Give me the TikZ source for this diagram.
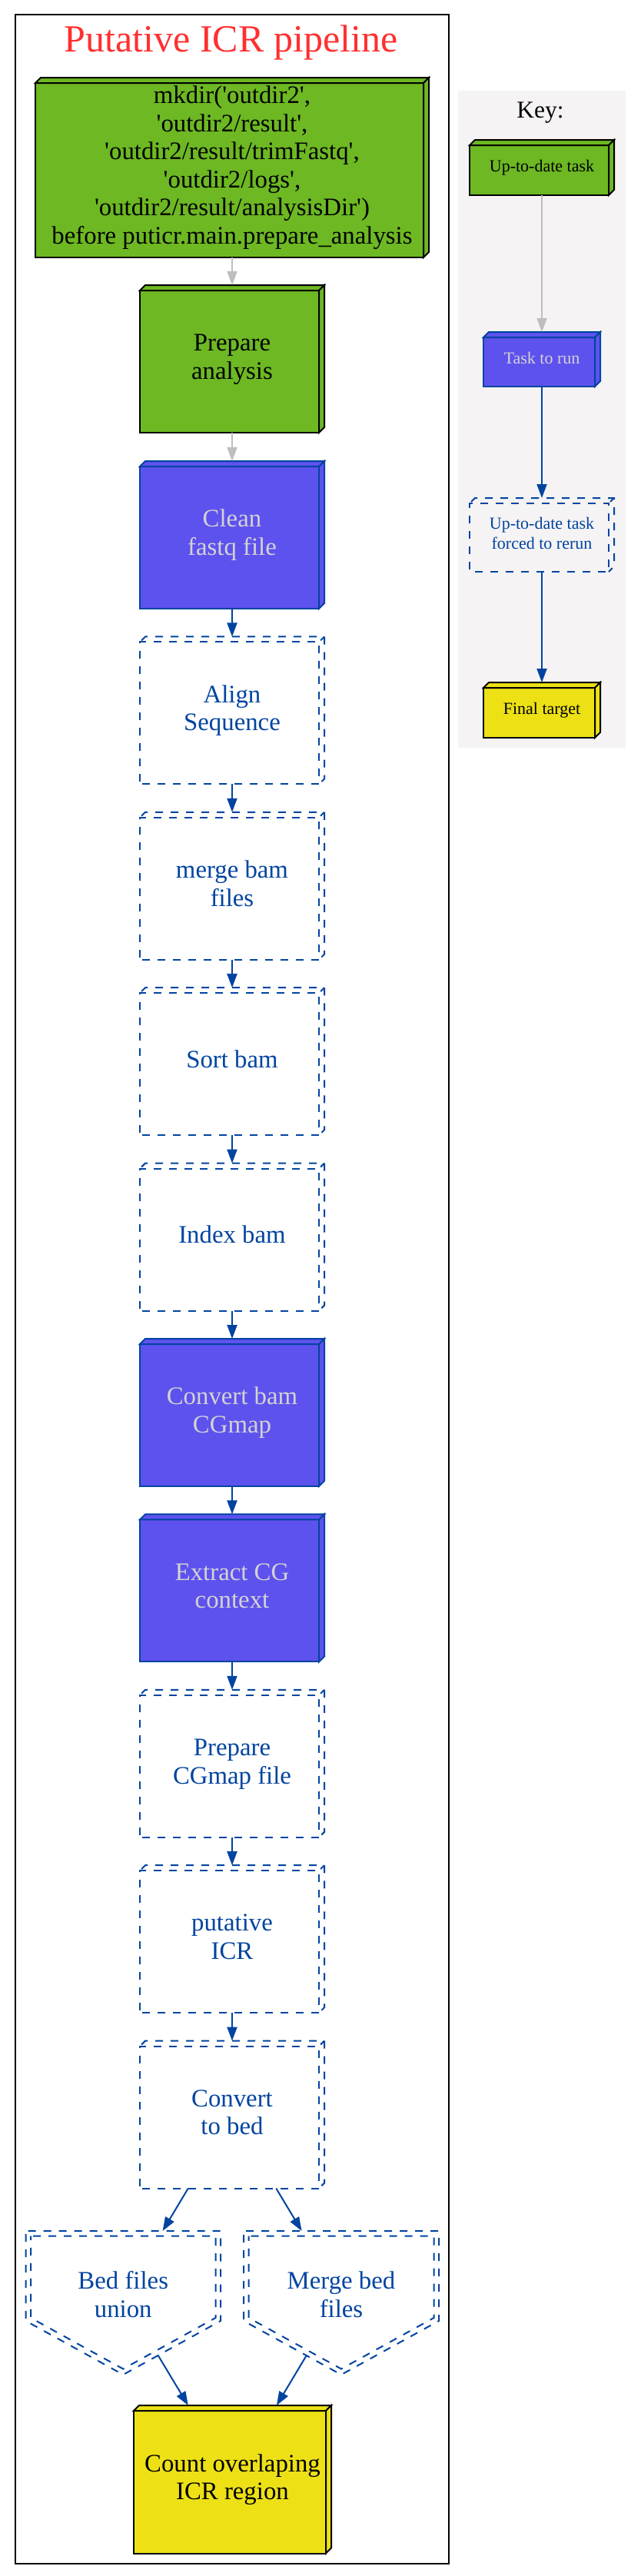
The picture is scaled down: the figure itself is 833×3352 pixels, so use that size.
\documentclass[tikz,border=0pt]{standalone}
\usepackage{fontspec}
\newfontfamily\gvf{Liberation Serif}
\usetikzlibrary{arrows.meta,calc,backgrounds}
\definecolor{gvgreen}{HTML}{6DB823}
\definecolor{gvblue}{HTML}{5E52EE}
\definecolor{gvedge}{HTML}{0044A0}
\definecolor{gvgray}{HTML}{BEBEBE}
\definecolor{gvyellow}{HTML}{EDE116}
\definecolor{gvlight}{HTML}{D3D3D3}
\definecolor{gvkey}{HTML}{F5F3F4}
\definecolor{gvred}{HTML}{FF3030}
\newcommand\ms{\rule[-10.25pt]{0pt}{36.5pt}}
\newcommand\ks{\rule[-7.5pt]{0pt}{26pt}}
\tikzset{
  gvnode/.style 2 args={rectangle, draw=none, outer sep=0pt, inner sep=0pt,
    minimum width=#1, minimum height=#2, align=center},
  mainfont/.style={font=\gvf\fontsize{32.8}{36.5}\selectfont},
  keyfont/.style={font=\gvf\fontsize{22}{26}\selectfont},
  gvdash/.style={draw=gvedge, line width=2pt, dash pattern=on 10pt off 10pt, dash phase=-3pt},
  gvarrow/.style={draw=gvedge, line width=2pt, -{Triangle[length=18pt,width=13pt]}},
  gvgrayarrow/.style={draw=gvgray, line width=2pt, -{Triangle[length=18pt,width=13pt]}},
}
\newcommand\gvsolidbox[3]{%
  \path[fill=#2, draw=#3, line width=2pt] (#1.south west) rectangle ($(#1.north east)+(-7,7)$);
  \path[fill=#2, draw=#3, line width=2pt] ($(#1.north west)+(0,7)$) -- ($(#1.north west)+(7,0)$) -- (#1.north east) -- ($(#1.north east)+(-7,7)$) -- cycle;
  \path[fill=#2, draw=#3, line width=2pt] ($(#1.north east)+(-7,7)$) -- (#1.north east) -- ($(#1.south east)+(0,-7)$) -- ($(#1.south east)+(-7,0)$) -- cycle;
}
\newcommand\gvdashbox[1]{%
  \path[gvdash] (#1.south west) rectangle ($(#1.north east)+(-7,7)$);
  \path[gvdash] ($(#1.north west)+(0,7)$) -- ($(#1.north west)+(7,0)$) -- (#1.north east) -- ($(#1.south east)+(0,-7)$) -- ($(#1.south east)+(-7,0)$);
  \path[gvdash] ($(#1.north east)+(-7,7)$) -- (#1.north east);
}
\newcommand\gvdashhouse[1]{%
  \path[gvdash] (#1.north west) -- (#1.north east) -- ($(#1.north east)+(0,117)$) -- ($(#1.north)+(0,187)$) -- ($(#1.north west)+(0,117)$) -- cycle;
  \path[gvdash] ($(#1.north west)+(6.5,6.5)$) -- ($(#1.north east)+(-6.5,6.5)$) -- ($(#1.north east)+(-6.5,113)$) -- ($(#1.north)+(0,179.5)$) -- ($(#1.north west)+(6.5,113)$) -- cycle;
}
\begin{document}
\begin{tikzpicture}[x=1pt, y=-1pt]
\useasboundingbox (0,0) rectangle (833,3352);
\begin{scope}[on background layer]
  \fill[white] (0,0) rectangle (833,3352);
  \fill[gvkey] (596,118) rectangle (814,973);
\end{scope}
\draw[line width=2pt] (20,19) rectangle (584,3336);

% titles
\node[font=\gvf\fontsize{50}{60}\selectfont, text=gvred, anchor=base, inner sep=0pt] (title) at (300.5,67) {Putative ICR pipeline};
\node[font=\gvf\fontsize{31.5}{36}\selectfont, anchor=base, inner sep=0pt] (keytitle) at (703,153) {Key:};

% main column
\node[gvnode={512pt}{234pt}, mainfont] (mkdir) at (302,218) {\ms mkdir('outdir2',\\\ms 'outdir2/result',\\\ms 'outdir2/result/trimFastq',\\\ms 'outdir2/logs',\\\ms 'outdir2/result/analysisDir')\\\ms before puticr.main.prepare\_analysis};
\node[gvnode={240pt}{192pt}, mainfont] (prep) at (302,467) {\ms Prepare\\\ms analysis};
\node[gvnode={240pt}{192pt}, mainfont, text=gvlight] (clean) at (302,696) {\ms Clean\\\ms fastq file};
\node[gvnode={240pt}{192pt}, mainfont, text=gvedge] (align) at (302,924.4) {\ms Align\\\ms Sequence};
\node[gvnode={240pt}{192pt}, mainfont, text=gvedge] (mergebam) at (302,1152.8) {\ms merge bam\\\ms files};
\node[gvnode={240pt}{192pt}, mainfont, text=gvedge] (sort) at (302,1381.2) {\ms Sort bam};
\node[gvnode={240pt}{192pt}, mainfont, text=gvedge] (index) at (302,1609.6) {\ms Index bam};
\node[gvnode={240pt}{192pt}, mainfont, text=gvlight] (cgmap) at (302,1838) {\ms Convert bam\\\ms CGmap};
\node[gvnode={240pt}{192pt}, mainfont, text=gvlight] (extract) at (302,2066.4) {\ms Extract CG\\\ms context};
\node[gvnode={240pt}{192pt}, mainfont, text=gvedge] (prepcg) at (302,2294.8) {\ms Prepare\\\ms CGmap file};
\node[gvnode={240pt}{192pt}, mainfont, text=gvedge] (putative) at (302,2523.2) {\ms putative\\\ms ICR};
\node[gvnode={240pt}{192pt}, mainfont, text=gvedge] (tobed) at (302,2751.6) {\ms Convert\\\ms to bed};
\node[gvnode={253.5pt}{172pt}, mainfont, text=gvedge] (union) at (160.25,2989) {\ms Bed files\\\ms union};
\node[gvnode={254pt}{172pt}, mainfont, text=gvedge] (mergebed) at (444,2989) {\ms Merge bed\\\ms files};
\node[gvnode={257pt}{192.5pt}, mainfont] (count) at (302.5,3226.25) {\ms Count overlaping\\\ms ICR region};

% key
\node[gvnode={188pt}{72pt}, keyfont] (k1) at (705,218) {\ks Up-to-date task};
\node[gvnode={152pt}{71pt}, keyfont, text=gvlight] (k2) at (705,467.5) {\ks Task to run};
\node[gvnode={188pt}{96pt}, keyfont, text=gvedge] (k3) at (705,696) {\ks Up-to-date task\\\ks forced to rerun};
\node[gvnode={152pt}{72pt}, keyfont] (k4) at (705,924) {\ks Final target};

\begin{scope}[on background layer]
  \gvsolidbox{mkdir}{gvgreen}{black}
  \gvsolidbox{prep}{gvgreen}{black}
  \gvsolidbox{clean}{gvblue}{gvedge}
  \gvsolidbox{cgmap}{gvblue}{gvedge}
  \gvsolidbox{extract}{gvblue}{gvedge}
  \gvsolidbox{count}{gvyellow}{black}
  \gvsolidbox{k1}{gvgreen}{black}
  \gvsolidbox{k2}{gvblue}{gvedge}
  \gvsolidbox{k4}{gvyellow}{black}
\end{scope}
\gvdashbox{align}
\gvdashbox{mergebam}
\gvdashbox{sort}
\gvdashbox{index}
\gvdashbox{prepcg}
\gvdashbox{putative}
\gvdashbox{tobed}
\gvdashbox{k3}
\gvdashhouse{union}
\gvdashhouse{mergebed}

% edges
\draw[gvgrayarrow] (mkdir) -- (prep);
\draw[gvgrayarrow] (prep) -- (clean);
\draw[gvarrow] (clean) -- (align);
\draw[gvarrow] (align) -- (mergebam);
\draw[gvarrow] (mergebam) -- (sort);
\draw[gvarrow] (sort) -- (index);
\draw[gvarrow] (index) -- (cgmap);
\draw[gvarrow] (cgmap) -- (extract);
\draw[gvarrow] (extract) -- (prepcg);
\draw[gvarrow] (prepcg) -- (putative);
\draw[gvarrow] (putative) -- (tobed);
\draw[gvarrow] (tobed) -- (union);
\draw[gvarrow] (tobed) -- (mergebed);
\draw[gvarrow, shorten <=-12pt] (union) -- (count);
\draw[gvarrow, shorten <=-12pt] (mergebed) -- (count);
\draw[gvgrayarrow] (k1) -- (k2);
\draw[gvarrow] (k2) -- (k3);
\draw[gvarrow] (k3) -- (k4);
\end{tikzpicture}
\end{document}
